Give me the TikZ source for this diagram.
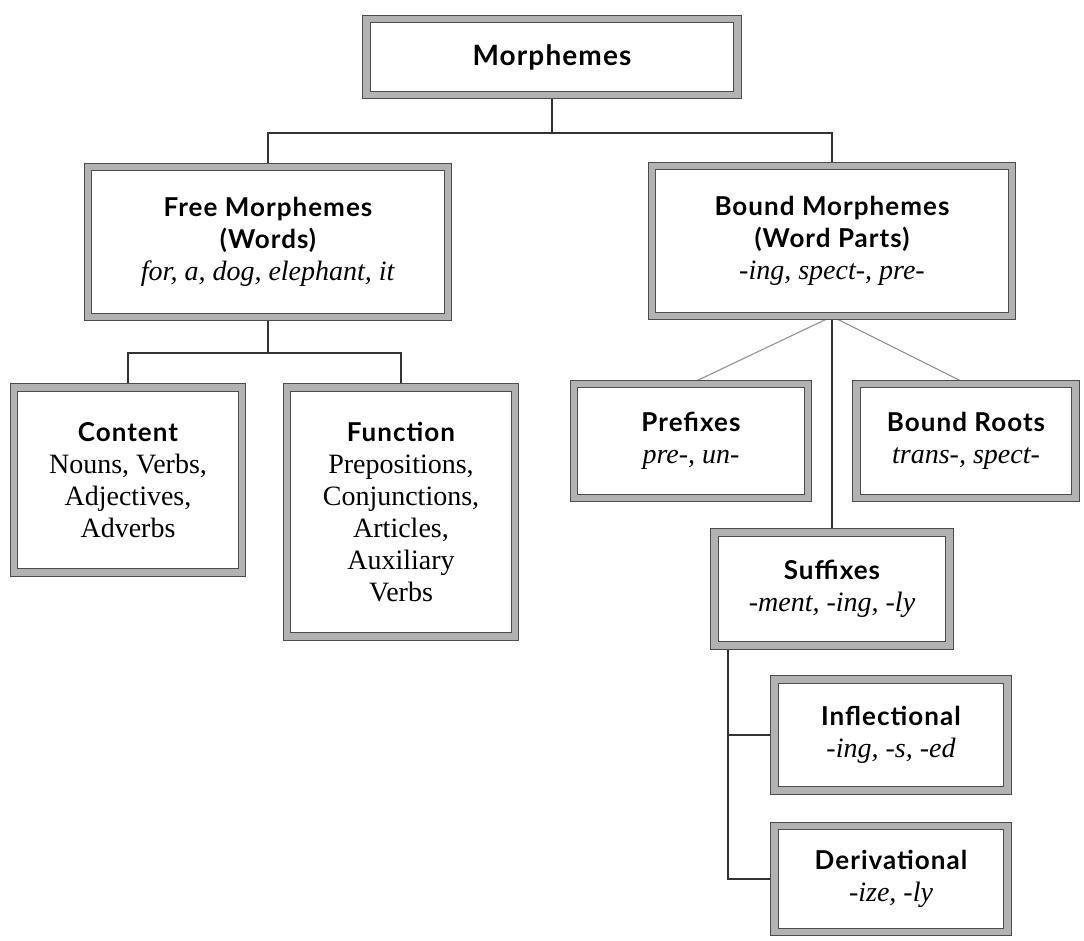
\documentclass[tikz,border=0pt]{standalone}
\usepackage{fontspec}
\setmainfont{Liberation Serif}
\newfontfamily\headfont[LetterSpace=4]{Lato}
\usetikzlibrary{positioning, calc, backgrounds}
\newcommand{\hd}[1]{{\headfont\bfseries\fontsize{13}{16}\selectfont #1}}

\begin{document}
\begin{tikzpicture}[x=0.5pt, y=-0.5pt,
    box/.style={draw=black!70, line width=0.5pt, double=black!30, double distance=3.4pt, fill=white, align=center, inner sep=0pt, font=\fontsize{14}{16}\selectfont},
    link/.style={black!80, line width=0.6pt},
    slant/.style={black!40, line width=0.6pt}]
    \useasboundingbox (0,0) rectangle (1084,941);
    %riquadro principale
    \node[box, minimum width=185.5pt, minimum height=38pt] (morph) at (552,57) {{\headfont\bfseries\fontsize{14}{16}\selectfont Morphemes}};
    %secondo livello
    \node[box, minimum width=180pt, minimum height=75pt] (free) at (268,242) {\hd{Free Morphemes}\\\hd{(Words)}\\\textit{for, a, dog, elephant, it}};
    \node[box, minimum width=180pt, minimum height=75pt] (bound) at (832,241) {\hd{Bound Morphemes}\\\hd{(Word Parts)}\\\textit{-ing, spect-, pre-}};
    %parole libere
    \node[box, minimum width=114pt, minimum height=92.5pt] (content) at (128,480) {\hd{Content}\\Nouns, Verbs,\\Adjectives,\\Adverbs};
    \node[box, minimum width=114pt, minimum height=124.5pt] (function) at (401,512) {\hd{Function}\\Prepositions,\\Conjunctions,\\Articles,\\Auxiliary\\Verbs};
    %parti di parola
    \node[box, minimum width=117pt, minimum height=57pt] (prefix) at (691,441) {\hd{Prefixes}\\\textit{pre-, un-}};
    \node[box, minimum width=109.5pt, minimum height=57pt] (roots) at (966,441) {\hd{Bound Roots}\\\textit{trans-, spect-}};
    \node[box, minimum width=117.5pt, minimum height=56.5pt] (suffix) at (832,589) {\hd{Suffixes}\\\textit{-ment, -ing, -ly}};
    \node[box, minimum width=116.5pt, minimum height=55.5pt] (infl) at (891,735) {\hd{Inflectional}\\\textit{-ing, -s, -ed}};
    \node[box, minimum width=116.5pt, minimum height=53pt] (deriv) at (891,879) {\hd{Derivational}\\\textit{-ize, -ly}};
    %collegamenti
    \begin{scope}[on background layer]
        \coordinate (j1) at (552,133);
        \draw[link] (morph.south) -- (j1);
        \draw[link] (free.north) |- (j1) -| (bound.north);
        \coordinate (j2) at (268,353);
        \draw[link] (free.south) -- (j2);
        \draw[link] (content.north) |- (j2) -| (function.north);
        \draw[slant] (bound.south) -- (prefix.north);
        \draw[slant] (bound.south) -- (roots.north);
        \draw[link] (bound.south) -- (suffix.north);
        \coordinate (j3) at (728,620);
        \draw[link] (j3) |- (infl.west);
        \draw[link] (j3) |- (deriv.west);
    \end{scope}
\end{tikzpicture}
\end{document}
